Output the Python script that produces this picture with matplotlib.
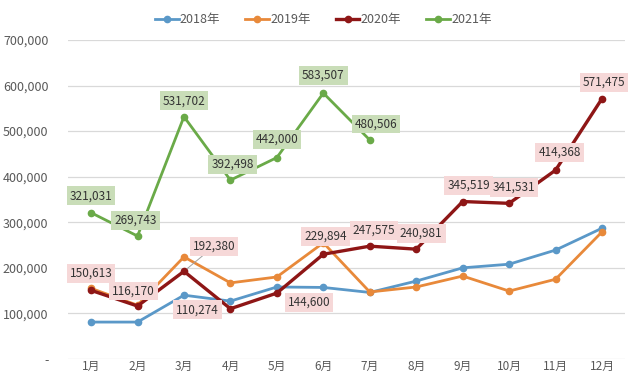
import matplotlib.pyplot as plt
from matplotlib.ticker import FuncFormatter

plt.rcParams['font.family'] = ['Noto Sans CJK SC', 'DejaVu Sans']

months = ['1月', '2月', '3月', '4月', '5月', '6月', '7月', '8月', '9月', '10月', '11月', '12月']
years = ['2018年', '2019年', '2020年', '2021年']

sales_2018 = [81000, 81000, 140000, 127000, 158000, 157000, 146000, 171000, 200000, 208000, 239000, 287000]
sales_2019 = [155000, 118000, 224000, 167000, 180000, 255000, 147000, 158000, 182000, 149000, 175000, 279000]
sales_2020 = [150613, 116170, 192380, 110274, 144600, 229894, 247575, 240981, 345519, 341531, 414368, 571475]
sales_2021 = [321031, 269743, 531702, 392498, 442000, 583507, 480506]

colors = ['#5a98c8', '#e8893a', '#8e1616', '#6aaa48']

# label offsets (pixels) from the point
offs_2020 = [(0, 17), (-4, 15), (30, 25), (-33, -1), (32, -9), (2, 18),
             (4, 16), (5, 16), (6, 16), (5, 16), (4, 18), (2, 16)]
offs_2021 = [(0, 17), (-2, 16), (0, 16), (2, 16), (0, 18), (0, 18), (6, 16)]

fig = plt.figure(figsize=(6.4, 3.75), dpi=100)
ax = fig.add_axes([0.106, 0.0427, 0.871, 0.8507])

x = list(range(len(months)))
series = [sales_2018, sales_2019, sales_2020, sales_2021]
widths = [2.0, 2.0, 2.4, 2.0]
for vals, c, lw, name in zip(series, colors, widths, years):
    ax.plot(x[:len(vals)], vals, color=c, lw=lw, marker='o', ms=4.5,
            label=name, solid_joinstyle='miter', zorder=3)


def put_labels(vals, offs, bg):
    for i, (v, (dx, dy)) in enumerate(zip(vals, offs)):
        arrow = None
        if abs(dx) > 20 and dy > 20:
            arrow = dict(arrowstyle='-', color='#a0a0a0', lw=0.7, shrinkA=0, shrinkB=3)
        ax.annotate(f'{v:,}', (i, v), xytext=(dx, dy), textcoords='offset pixels',
                    ha='center', va='center', fontsize=8.5, color='#333333',
                    bbox=dict(boxstyle='square,pad=0.25', fc=bg, ec='none'),
                    arrowprops=arrow, zorder=5)


put_labels(sales_2020, offs_2020, '#f6d8d8')
put_labels(sales_2021, offs_2021, '#c9ddb8')

ax.set_xlim(-0.5, 11.5)
ax.set_ylim(0, 700000)
ax.set_yticks(range(0, 700001, 100000))
ax.yaxis.set_major_formatter(FuncFormatter(lambda v, p: '-' if v == 0 else f'{int(v):,}'))
ax.set_xticks(x)
ax.set_xticklabels(months)
ax.tick_params(axis='both', length=0, labelsize=9, colors='#595959')
ax.tick_params(axis='y', pad=14)
ax.tick_params(axis='x', pad=1, labelsize=8.5)
ax.grid(axis='y', color='#d9d9d9', lw=0.9)
ax.set_axisbelow(True)
for s in ax.spines.values():
    s.set_visible(False)

fig.legend(loc='center', bbox_to_anchor=(0.505, 0.947), ncol=4, frameon=False,
           fontsize=9, labelcolor='#595959', handlelength=1.9, columnspacing=2.0,
           handletextpad=0.1)

fig.savefig('out.png', dpi=100)
